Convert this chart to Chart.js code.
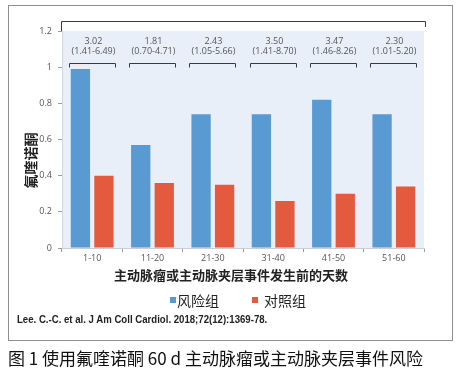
<!DOCTYPE html>
<html>
<head>
<meta charset="utf-8">
<script src="https://cdn.jsdelivr.net/npm/chart.js@4.4.1/dist/chart.umd.min.js"></script>
<style>
  body { margin: 0; background: #fff; }
  #page { position: relative; width: 464px; height: 378px; overflow: hidden; }
  #frame { position: absolute; left: 8px; top: 5px; width: 443px; height: 334px; border: 1px solid #8e8e8e; }
  #myChart { position: absolute; left: 0; top: 0; }
  #cite { position: absolute; left: 17px; top: 314px; font: bold 10px "Liberation Sans Narrow", "Liberation Sans", sans-serif; color: #222; white-space: nowrap; transform-origin: left top; }
  #caption { position: absolute; left: 8px; top: 345px; font: 17px "Noto Sans CJK SC", sans-serif; color: #111; white-space: nowrap; }
</style>
</head>
<body>
<div id="page">
  <div id="frame"></div>
  <canvas id="myChart" width="464" height="378"></canvas>
  <div id="cite">Lee. C.-C. et al. J Am Coll Cardiol. 2018;72(12):1369-78.</div>
  <div id="caption">图 1 使用氟喹诺酮 60 d 主动脉瘤或主动脉夹层事件风险</div>
</div>
<script>
var categories = ['1-10', '11-20', '21-30', '31-40', '41-50', '51-60'];
var riskGroup = [0.99, 0.57, 0.74, 0.74, 0.82, 0.74];
var controlGroup = [0.40, 0.36, 0.35, 0.26, 0.30, 0.34];
var hrValues = ['3.02', '1.81', '2.43', '3.50', '3.47', '2.30'];
var hrRanges = ['(1.41-6.49)', '(0.70-4.71)', '(1.05-5.66)', '(1.41-8.70)', '(1.46-8.26)', '(1.01-5.20)'];
var yTitle = '氟喹诺酮';
var xTitle = '主动脉瘤或主动脉夹层事件发生前的天数';

var latin = '"Open Sans", "Noto Sans", sans-serif';
var cjk = '"Noto Sans CJK SC", sans-serif';

// background, brackets, hazard ratio labels, axis titles, legend
var extras = {
    id: 'extras',
    beforeDraw: function (chart) {
        var ctx = chart.ctx, a = chart.chartArea;
        ctx.save();
        ctx.fillStyle = '#e9eff9';
        ctx.fillRect(a.left, a.top, a.right - a.left, a.bottom - a.top);
        ctx.restore();
    },
    afterDraw: function (chart) {
        var ctx = chart.ctx, a = chart.chartArea;
        ctx.save();
        ctx.strokeStyle = '#3a3a3a';
        ctx.lineWidth = 1;
        ctx.beginPath();
        ctx.moveTo(a.left - 0.5, a.top);
        ctx.lineTo(a.left - 0.5, 21.5);
        ctx.lineTo(a.right + 1.5, 21.5);
        ctx.lineTo(a.right + 1.5, 27);
        ctx.stroke();

        var m0 = chart.getDatasetMeta(0), m1 = chart.getDatasetMeta(1);
        for (var i = 0; i < categories.length; i++) {
            var b = m0.data[i], r = m1.data[i];
            var left = Math.round(b.x - b.width / 2) - 1.5;
            var right = Math.round(r.x + r.width / 2) + 1.5;
            var by = Math.round(a.top + 32) + 0.5;
            ctx.beginPath();
            ctx.moveTo(left, by + 4);
            ctx.lineTo(left, by);
            ctx.lineTo(right, by);
            ctx.lineTo(right, by + 4);
            ctx.stroke();
            var cx = (left + right) / 2 + 1;
            ctx.fillStyle = '#555';
            ctx.textAlign = 'center';
            ctx.textBaseline = 'middle';
            ctx.font = '9px ' + latin;
            ctx.fillText(hrValues[i], cx, a.top + 10);
            ctx.fillText(hrRanges[i], cx, a.top + 20.5);
        }

        // axis titles
        ctx.fillStyle = '#222';
        ctx.font = 'bold 14px ' + cjk;
        ctx.save();
        ctx.translate(31, 160.5);
        ctx.rotate(-Math.PI / 2);
        ctx.fillText(yTitle, 0, 0);
        ctx.restore();
        ctx.font = 'bold 13px ' + cjk;
        ctx.fillText(xTitle, 231, 275.5);

        // legend
        var spots = [{ sq: 170, tx: 177 }, { sq: 252, tx: 264 }];
        ctx.textAlign = 'left';
        ctx.font = '14px ' + cjk;
        chart.data.datasets.forEach(function (ds, k) {
            ctx.fillStyle = ds.backgroundColor;
            ctx.fillRect(spots[k].sq, 297, 6, 6);
            ctx.fillStyle = '#222';
            ctx.fillText(ds.label, spots[k].tx, 300.5);
        });
        ctx.restore();
    }
};

var ctx = document.getElementById('myChart').getContext('2d');
var myChart = new Chart(ctx, {
    type: 'bar',
    data: {
        labels: categories,
        datasets: [
            {
                label: '风险组',
                data: riskGroup,
                backgroundColor: '#5a9ad2',
                categoryPercentage: 0.78,
                barPercentage: 0.82
            },
            {
                label: '对照组',
                data: controlGroup,
                backgroundColor: '#e35a3f',
                categoryPercentage: 0.78,
                barPercentage: 0.82
            }
        ]
    },
    options: {
        responsive: false,
        animation: false,
        devicePixelRatio: 1,
        layout: { padding: { top: 31, right: 40, bottom: 110, left: 0 } },
        plugins: {
            legend: { display: false },
            tooltip: { enabled: false }
        },
        scales: {
            x: {
                afterFit: function (s) { s.height = 20; },
                grid: { offset: true, drawOnChartArea: false, tickLength: 4, color: '#9a9a9a' },
                border: { color: '#c9ced6' },
                ticks: { color: '#555', padding: 1, font: { size: 9, family: latin } }
            },
            y: {
                min: 0,
                max: 1.2,
                afterFit: function (s) { s.width = 62; },
                grid: { drawOnChartArea: false, tickLength: 4, color: '#9a9a9a' },
                border: { color: '#d3d8e0' },
                ticks: {
                    stepSize: 0.2,
                    color: '#555',
                    padding: 6,
                    font: { size: 9, family: latin },
                    callback: function (v) { return String(Number(v.toFixed(1))); }
                }
            }
        }
    },
    plugins: [extras]
});

// squeeze the citation to the width it has in the figure
var cite = document.getElementById('cite');
cite.style.transform = 'scaleX(' + (250 / cite.offsetWidth) + ')';
</script>
</body>
</html>
